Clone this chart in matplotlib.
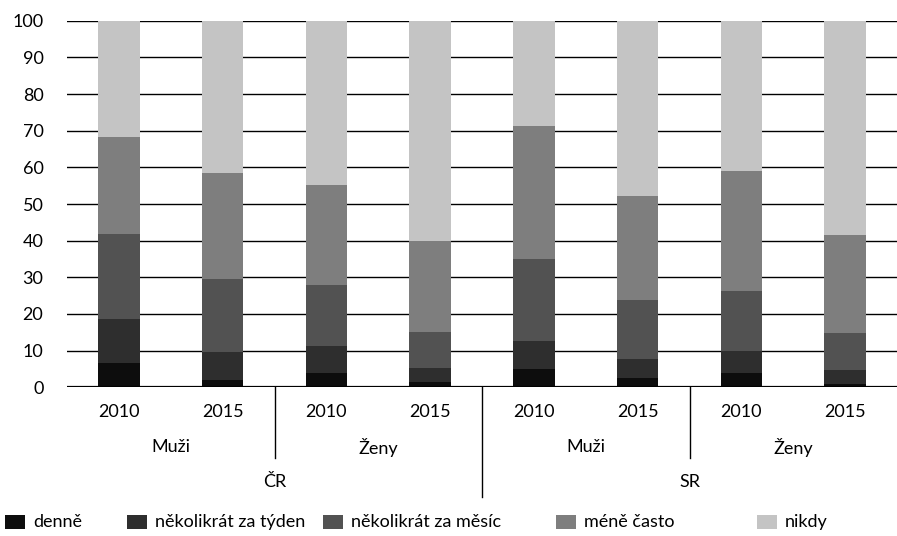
import numpy as np
import matplotlib
matplotlib.use('Agg')
import matplotlib.pyplot as plt
from matplotlib.patches import Rectangle
import matplotlib.transforms as mtransforms

plt.rcParams['font.family'] = ['Lato', 'DejaVu Sans']
plt.rcParams['font.size'] = 13

# data (percent), order: ČR Muži 2010/2015, ČR Ženy 2010/2015, SR Muži 2010/2015, SR Ženy 2010/2015
years = ['2010', '2015'] * 4
groups = ['Muži', 'Ženy', 'Muži', 'Ženy']
countries = ['ČR', 'SR']
series_names = ['denně', 'několikrát za týden', 'několikrát za měsíc', 'méně často', 'nikdy']
denne = [6.5, 2.0, 4.0, 1.5, 4.9, 2.5, 4.0, 1.0]
tyden = [12.1, 7.5, 7.4, 3.9, 7.8, 5.1, 5.9, 3.7]
mesic = [23.1, 20.0, 16.5, 9.8, 22.4, 16.2, 16.4, 10.2]
mene = [26.5, 29.0, 27.3, 24.8, 36.2, 28.5, 32.7, 26.6]
nikdy = [31.8, 41.5, 44.8, 60.0, 28.7, 47.7, 41.0, 58.5]
colors = ['#0d0d0d', '#2e2e2e', '#525252', '#7e7e7e', '#c4c4c4']

W, H = 897, 536
fig = plt.figure(figsize=(W / 100, H / 100), dpi=100)
ax = fig.add_axes([0.0747, 0.2774, 0.9253, 0.684])

x = np.arange(len(years))
bottom = np.zeros(len(years))
for vals, col in zip([denne, tyden, mesic, mene, nikdy], colors):
    ax.bar(x, vals, width=0.4, bottom=bottom, color=col, zorder=3)
    bottom += np.array(vals)

ax.set_xlim(-0.5, 7.5)
ax.set_ylim(0, 100)
ax.set_yticks(range(0, 101, 10))
for y in range(10, 101, 10):
    ax.axhline(y, color='black', lw=1.0, zorder=1)
ax.axhline(0, color='black', lw=1.6, zorder=4)
for s in ax.spines.values():
    s.set_visible(False)
ax.tick_params(axis='y', length=0, pad=17, labelsize=13)
ax.set_xticks([])

trans = mtransforms.blended_transform_factory(ax.transData, ax.transAxes)
for i, yr in enumerate(years):
    ax.text(i, -0.067, yr, transform=trans, ha='center', va='center')
for j, g in enumerate(groups):
    ax.text(2 * j + 0.5, -0.163, g, transform=trans, ha='center', va='center')
for k, c in enumerate(countries):
    ax.text(4 * k + 1.5, -0.258, c, transform=trans, ha='center', va='center')

# separators
for xs, yend in [(1.5, -0.193), (3.5, -0.299), (5.5, -0.193)]:
    ax.plot([xs, xs], [0, yend], transform=trans, color='black', lw=1.0, clip_on=False)

# legend, placed by hand like in the original
leg_x = [5, 127, 323, 556, 757]
leg_y = 522
for lx, name, col in zip(leg_x, series_names, colors):
    fig.add_artist(Rectangle((lx / W, 1 - (leg_y + 7) / H), 20 / W, 14 / H,
                             transform=fig.transFigure, facecolor=col, edgecolor='none'))
    fig.text((lx + 28) / W, 1 - leg_y / H, name, ha='left', va='center')

fig.savefig('out.png', dpi=100)
